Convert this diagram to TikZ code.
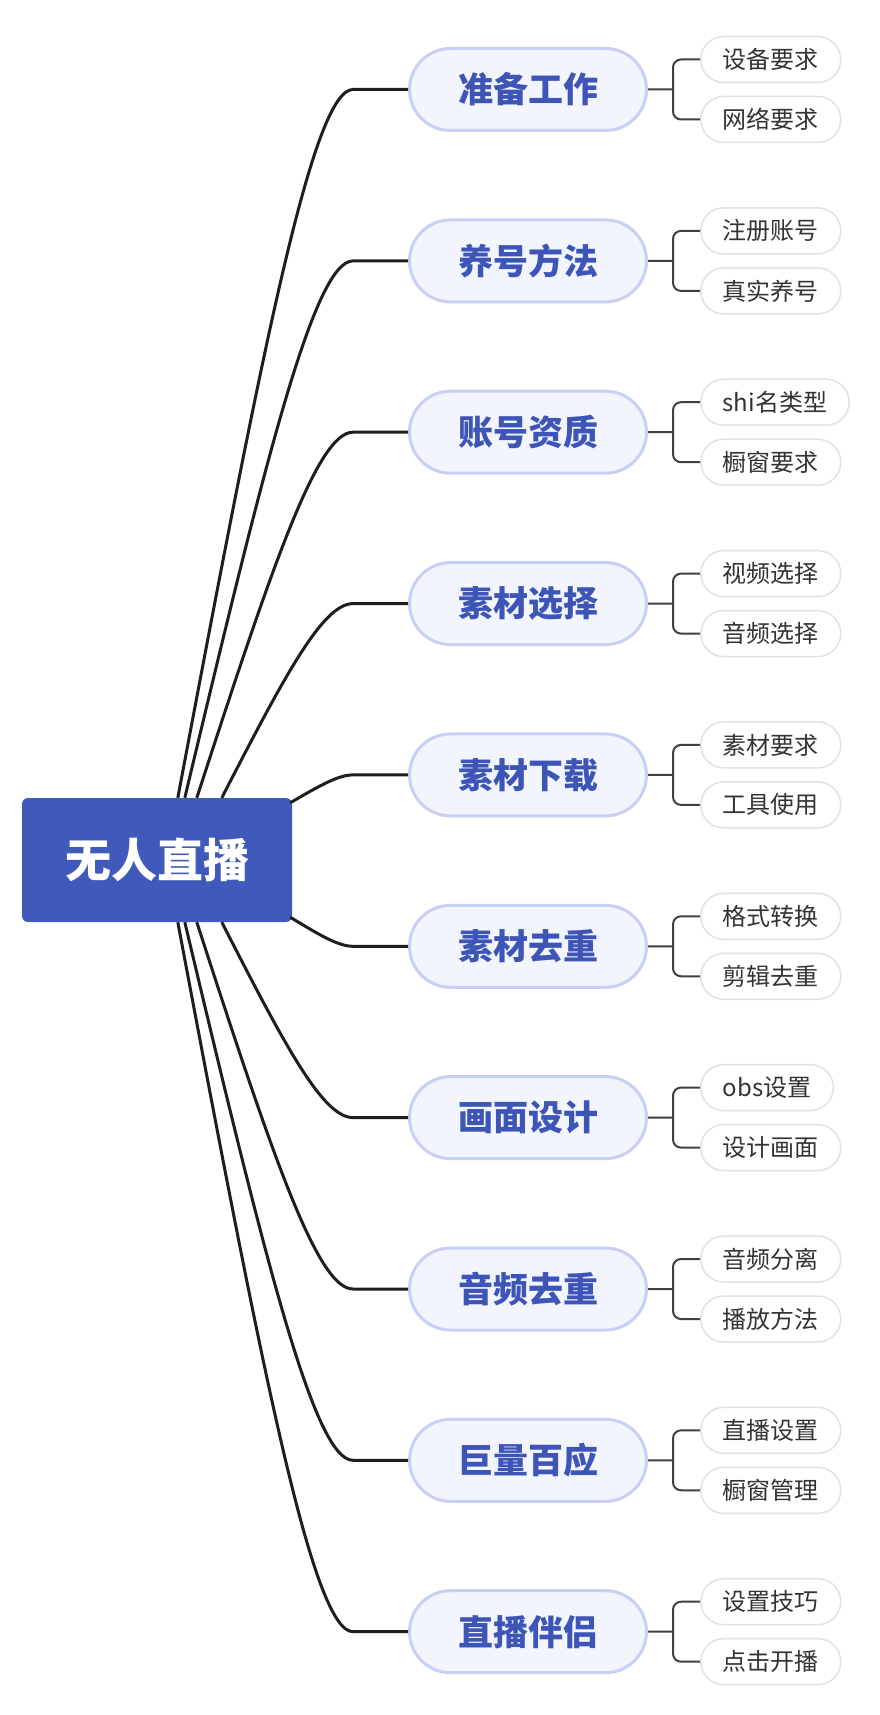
\documentclass[tikz,border=0pt]{standalone}
\usepackage{fontspec}
\setmainfont{Noto Sans CJK SC}
\usetikzlibrary{calc,positioning}
\definecolor{hubblue}{HTML}{3F5ABA}
\definecolor{topicline}{HTML}{C9D0F6}
\definecolor{topicfill}{HTML}{F2F4FE}
\definecolor{topictext}{HTML}{3D55B6}
\definecolor{leafline}{HTML}{E2E2E2}
\definecolor{leaftext}{HTML}{333333}
\definecolor{wire}{HTML}{1E1E1E}
\tikzset{
  hub/.style={fill=hubblue,rounded corners=6pt,minimum width=270pt,minimum height=124pt,text=white,font=\fontsize{46}{50}\selectfont\bfseries},
  topic/.style={draw=topicline,line width=3pt,fill=topicfill,rounded corners=41pt,minimum width=237pt,minimum height=82pt,text=topictext,font=\fontsize{35}{40}\selectfont\bfseries},
  leaf/.style={draw=leafline,line width=1.5pt,fill=white,rounded corners=23pt,minimum height=46pt,inner xsep=22pt,text=leaftext,font=\fontsize{24}{28}\selectfont},
  trunk/.style={draw=wire,line width=3pt},
  twig/.style={draw=wire!85,line width=2pt,rounded corners=8pt}
}
% curved stem from a point on the root to a topic
\newcommand{\stem}[2]{%
  \draw[trunk] let \p1=(#1), \p2=(#2.west) in
    (\p1) .. controls ({\x1+0.48*(\x2-55-\x1)},{\y2+0.37*(\y1-\y2)}) and ({\x2-55-0.23*(\x2-55-\x1)},\y2) .. ({\x2-55},\y2) -- (\p2);}

\begin{document}
\begin{tikzpicture}[x=1pt,y=-1pt]
  \useasboundingbox[fill=white] (0,0) rectangle (880,1715);

  \node[hub] (root) at (157,860) {无人直播};

  \node[topic] (b1) at (528,89.5) {准备工作};
  \node[topic] (b2) at (528,260.9) {养号方法};
  \node[topic] (b3) at (528,432.2) {账号资质};
  \node[topic] (b4) at (528,603.6) {素材选择};
  \node[topic] (b5) at (528,774.9) {素材下载};
  \node[topic] (b6) at (528,946.3) {素材去重};
  \node[topic] (b7) at (528,1117.6) {画面设计};
  \node[topic] (b8) at (528,1289.0) {音频去重};
  \node[topic] (b9) at (528,1460.3) {巨量百应};
  \node[topic] (b10) at (528,1631.7) {直播伴侣};

  \node[leaf,right=52pt of b1,yshift=30pt] (l1a) {设备要求};
  \node[leaf,right=52pt of b1,yshift=-30pt] (l1b) {网络要求};
  \node[leaf,right=52pt of b2,yshift=30pt] (l2a) {注册账号};
  \node[leaf,right=52pt of b2,yshift=-30pt] (l2b) {真实养号};
  \node[leaf,right=52pt of b3,yshift=30pt] (l3a) {shi名类型};
  \node[leaf,right=52pt of b3,yshift=-30pt] (l3b) {橱窗要求};
  \node[leaf,right=52pt of b4,yshift=30pt] (l4a) {视频选择};
  \node[leaf,right=52pt of b4,yshift=-30pt] (l4b) {音频选择};
  \node[leaf,right=52pt of b5,yshift=30pt] (l5a) {素材要求};
  \node[leaf,right=52pt of b5,yshift=-30pt] (l5b) {工具使用};
  \node[leaf,right=52pt of b6,yshift=30pt] (l6a) {格式转换};
  \node[leaf,right=52pt of b6,yshift=-30pt] (l6b) {剪辑去重};
  \node[leaf,right=52pt of b7,yshift=30pt] (l7a) {obs设置};
  \node[leaf,right=52pt of b7,yshift=-30pt] (l7b) {设计画面};
  \node[leaf,right=52pt of b8,yshift=30pt] (l8a) {音频分离};
  \node[leaf,right=52pt of b8,yshift=-30pt] (l8b) {播放方法};
  \node[leaf,right=52pt of b9,yshift=30pt] (l9a) {直播设置};
  \node[leaf,right=52pt of b9,yshift=-30pt] (l9b) {橱窗管理};
  \node[leaf,right=52pt of b10,yshift=30pt] (l10a) {设置技巧};
  \node[leaf,right=52pt of b10,yshift=-30pt] (l10b) {点击开播};

  % where the stems leave the root
  \coordinate (s1) at ($(root.north west)+(156,0)$);
  \coordinate (s2) at ($(root.north west)+(163,0)$);
  \coordinate (s3) at ($(root.north west)+(175,0)$);
  \coordinate (s4) at ($(root.north west)+(200,0)$);
  \coordinate (s5) at ($(root.north east)+(-2,5)$);
  \coordinate (s6) at ($(root.south east)+(-2,-5)$);
  \coordinate (s7) at ($(root.south west)+(200,0)$);
  \coordinate (s8) at ($(root.south west)+(175,0)$);
  \coordinate (s9) at ($(root.south west)+(163,0)$);
  \coordinate (s10) at ($(root.south west)+(156,0)$);

  \stem{s1}{b1} \stem{s2}{b2} \stem{s3}{b3} \stem{s4}{b4} \stem{s5}{b5}
  \stem{s6}{b6} \stem{s7}{b7} \stem{s8}{b8} \stem{s9}{b9} \stem{s10}{b10}

  % topic to leaves
  \coordinate[right=25pt of b1.east] (j1);
  \coordinate[right=25pt of b2.east] (j2);
  \coordinate[right=25pt of b3.east] (j3);
  \coordinate[right=25pt of b4.east] (j4);
  \coordinate[right=25pt of b5.east] (j5);
  \coordinate[right=25pt of b6.east] (j6);
  \coordinate[right=25pt of b7.east] (j7);
  \coordinate[right=25pt of b8.east] (j8);
  \coordinate[right=25pt of b9.east] (j9);
  \coordinate[right=25pt of b10.east] (j10);
  \draw[twig] (b1.east)--(j1) (l1a.west)-|(j1)|-(l1b.west);
  \draw[twig] (b2.east)--(j2) (l2a.west)-|(j2)|-(l2b.west);
  \draw[twig] (b3.east)--(j3) (l3a.west)-|(j3)|-(l3b.west);
  \draw[twig] (b4.east)--(j4) (l4a.west)-|(j4)|-(l4b.west);
  \draw[twig] (b5.east)--(j5) (l5a.west)-|(j5)|-(l5b.west);
  \draw[twig] (b6.east)--(j6) (l6a.west)-|(j6)|-(l6b.west);
  \draw[twig] (b7.east)--(j7) (l7a.west)-|(j7)|-(l7b.west);
  \draw[twig] (b8.east)--(j8) (l8a.west)-|(j8)|-(l8b.west);
  \draw[twig] (b9.east)--(j9) (l9a.west)-|(j9)|-(l9b.west);
  \draw[twig] (b10.east)--(j10) (l10a.west)-|(j10)|-(l10b.west);
\end{tikzpicture}
\end{document}
